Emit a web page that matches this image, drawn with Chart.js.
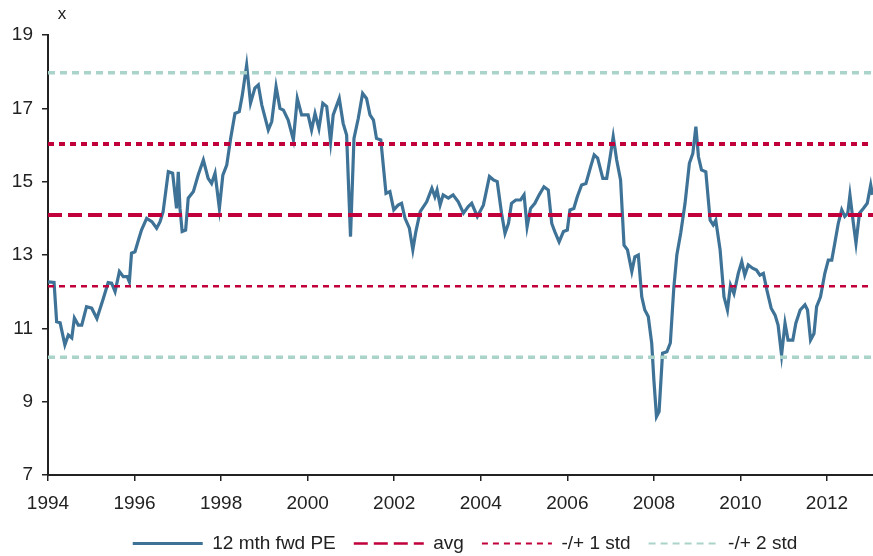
<!DOCTYPE html>
<html>
<head>
<meta charset="utf-8">
<script src="https://cdn.jsdelivr.net/npm/chart.js@4.4.1/dist/chart.umd.min.js"></script>
<style>
  html, body { margin: 0; padding: 0; background: #fff; overflow: hidden; }
  #wrap { width: 930px; height: 556px; }
</style>
</head>
<body>
<div id="wrap"><canvas id="peChart" width="930" height="556"></canvas></div>
<script>
// 12 mth fwd PE (decimal year, multiple)
const peDates = [
  1994.00, 1994.14, 1994.20, 1994.28, 1994.39, 1994.47, 1994.55, 1994.61, 1994.70, 1994.78,
  1994.89, 1995.01, 1995.13, 1995.28, 1995.39, 1995.47, 1995.55, 1995.65, 1995.74, 1995.83,
  1995.88, 1995.93, 1996.01, 1996.09, 1996.16, 1996.28, 1996.40, 1996.51, 1996.59, 1996.66,
  1996.78, 1996.88, 1996.97, 1997.01, 1997.05, 1997.10, 1997.18, 1997.24, 1997.36, 1997.47,
  1997.59, 1997.70, 1997.78, 1997.86, 1997.96, 1998.04, 1998.13, 1998.22, 1998.32, 1998.42,
  1998.49, 1998.59, 1998.68, 1998.78, 1998.86, 1998.94, 1999.09, 1999.17, 1999.27, 1999.36,
  1999.44, 1999.55, 1999.67, 1999.76, 1999.86, 2000.01, 2000.09, 2000.17, 2000.26, 2000.35,
  2000.44, 2000.53, 2000.59, 2000.73, 2000.82, 2000.90, 2000.99, 2001.07, 2001.17, 2001.27,
  2001.36, 2001.44, 2001.52, 2001.59, 2001.69, 2001.81, 2001.90, 2001.99, 2002.09, 2002.17,
  2002.25, 2002.35, 2002.43, 2002.50, 2002.60, 2002.75, 2002.87, 2002.94, 2002.99, 2003.06,
  2003.13, 2003.25, 2003.36, 2003.48, 2003.60, 2003.71, 2003.79, 2003.92, 2004.06, 2004.20,
  2004.29, 2004.38, 2004.48, 2004.56, 2004.64, 2004.71, 2004.81, 2004.92, 2005.00, 2005.07,
  2005.15, 2005.25, 2005.35, 2005.46, 2005.56, 2005.64, 2005.71, 2005.81, 2005.91, 2006.00,
  2006.06, 2006.15, 2006.23, 2006.33, 2006.43, 2006.54, 2006.62, 2006.70, 2006.82, 2006.91,
  2006.99, 2007.06, 2007.14, 2007.23, 2007.31, 2007.39, 2007.49, 2007.56, 2007.64, 2007.72,
  2007.79, 2007.87, 2007.95, 2008.00, 2008.06, 2008.12, 2008.20, 2008.30, 2008.38, 2008.46,
  2008.53, 2008.62, 2008.72, 2008.82, 2008.90, 2008.97, 2009.03, 2009.10, 2009.20, 2009.30,
  2009.37, 2009.43, 2009.53, 2009.62, 2009.70, 2009.77, 2009.85, 2009.95, 2010.03, 2010.10,
  2010.18, 2010.28, 2010.37, 2010.45, 2010.53, 2010.61, 2010.71, 2010.80, 2010.87, 2010.95,
  2011.03, 2011.10, 2011.21, 2011.28, 2011.38, 2011.49, 2011.55, 2011.62, 2011.70, 2011.76,
  2011.85, 2011.95, 2012.03, 2012.11, 2012.18, 2012.26, 2012.34, 2012.41, 2012.48, 2012.53,
  2012.61, 2012.67, 2012.75, 2012.84, 2012.93, 2013.01, 2013.05
];
const peValues = [
  12.27, 12.25, 11.18, 11.15, 10.55, 10.82, 10.74, 11.28, 11.09, 11.09,
  11.59, 11.55, 11.27, 11.82, 12.25, 12.23, 12.00, 12.55, 12.41, 12.41,
  12.27, 13.05, 13.09, 13.41, 13.68, 14.00, 13.91, 13.73, 13.91, 14.18,
  15.27, 15.23, 14.27, 15.27, 14.27, 13.64, 13.68, 14.55, 14.73, 15.18,
  15.59, 15.09, 14.95, 15.23, 14.27, 15.18, 15.45, 16.18, 16.86, 16.91,
  17.36, 18.18, 17.14, 17.55, 17.64, 17.09, 16.41, 16.64, 17.59, 17.00,
  16.95, 16.68, 16.14, 17.27, 16.82, 16.82, 16.41, 16.86, 16.45, 17.14,
  17.05, 16.09, 16.82, 17.27, 16.59, 16.27, 13.50, 16.18, 16.73, 17.41,
  17.27, 16.82, 16.68, 16.18, 16.14, 14.68, 14.73, 14.23, 14.36, 14.41,
  14.00, 13.73, 13.14, 13.64, 14.18, 14.45, 14.82, 14.59, 14.77, 14.36,
  14.64, 14.55, 14.64, 14.45, 14.14, 14.32, 14.41, 14.05, 14.36, 15.14,
  15.05, 15.00, 14.14, 13.59, 13.86, 14.41, 14.50, 14.50, 14.64, 13.77,
  14.27, 14.41, 14.64, 14.86, 14.77, 13.86, 13.64, 13.36, 13.64, 13.68,
  14.23, 14.27, 14.59, 14.91, 14.95, 15.41, 15.73, 15.64, 15.09, 15.09,
  15.68, 16.23, 15.59, 15.05, 13.27, 13.14, 12.55, 12.95, 13.00, 11.86,
  11.50, 11.32, 10.59, 9.59, 8.59, 8.73, 10.32, 10.36, 10.60, 12.10,
  13.00, 13.60, 14.41, 15.50, 15.77, 16.50, 15.68, 15.32, 15.27, 13.95,
  13.82, 13.95, 13.14, 11.86, 11.50, 12.18, 11.95, 12.50, 12.82, 12.45,
  12.73, 12.64, 12.59, 12.45, 12.50, 12.05, 11.55, 11.36, 11.09, 10.27,
  11.14, 10.68, 10.68, 11.14, 11.50, 11.64, 11.50, 10.68, 10.86, 11.59,
  11.86, 12.50, 12.86, 12.86, 13.32, 13.86, 14.23, 14.05, 14.14, 14.64,
  13.86, 13.32, 14.14, 14.27, 14.41, 14.91, 14.64
];

// horizontal reference levels
const avgLevel = 14.09;
const std1Levels = [16.03, 12.15];
const std2Levels = [17.97, 10.21];

const yearTicks = [1994, 1996, 1998, 2000, 2002, 2004, 2006, 2008, 2010, 2012];
const valueTicks = [7, 9, 11, 13, 15, 17, 19];
const xStart = 1994;
const xEnd = 2014.38;   // chart runs past the right edge of the picture

const legendLabels = ["12 mth fwd PE", "avg", "-/+ 1 std", "-/+ 2 std"];

const BLUE = "#3e7397";
const RED = "#c1003b";
const TEAL = "#aad4ca";
const INK = "#222";

Chart.defaults.font.family = "'Liberation Sans', Arial, sans-serif";
Chart.defaults.font.size = 19;
Chart.defaults.color = INK;

function flatLine(level) {
  return [{ x: xStart, y: level }, { x: xEnd, y: level }];
}

// little "x" unit label above the value axis
const unitLabel = {
  id: "unitLabel",
  afterDraw(chart) {
    const { ctx, chartArea } = chart;
    ctx.save();
    ctx.font = "17px 'Liberation Sans', Arial, sans-serif";
    ctx.fillStyle = INK;
    ctx.textAlign = "center";
    ctx.textBaseline = "middle";
    ctx.fillText("x", chartArea.left + 14, chartArea.top - 21);
    ctx.restore();
  }
};

const legendWidths = [3, 2.5, 2, 2];

new Chart(document.getElementById("peChart"), {
  type: "line",
  data: {
    datasets: [
      {
        label: legendLabels[0],
        data: peDates.map((d, i) => ({ x: d, y: peValues[i] })),
        borderColor: BLUE,
        borderWidth: 3.2,
        order: 2
      },
      { label: legendLabels[1], data: flatLine(avgLevel), borderColor: RED, borderWidth: 4, borderDash: [14, 6], order: 1 },
      { label: legendLabels[2], data: flatLine(std1Levels[0]), borderColor: RED, borderWidth: 4, borderDash: [6, 5], order: 1 },
      { label: legendLabels[3], data: flatLine(std2Levels[0]), borderColor: TEAL, borderWidth: 3.5, borderDash: [7, 5], order: 1 },
      { label: "-1 std", data: flatLine(std1Levels[1]), borderColor: RED, borderWidth: 2.5, borderDash: [6, 5], order: 1 },
      { label: "-2 std", data: flatLine(std2Levels[1]), borderColor: TEAL, borderWidth: 3.5, borderDash: [7, 5], order: 1 }
    ]
  },
  options: {
    responsive: false,
    animation: false,
    layout: { padding: { top: 35, left: 0, right: 0, bottom: -7 } },
    elements: {
      point: { radius: 0 },
      line: { tension: 0, fill: false, borderCapStyle: "butt" }
    },
    scales: {
      x: {
        type: "linear",
        min: xStart,
        max: xEnd,
        afterBuildTicks: s => { s.ticks = yearTicks.map(v => ({ value: v })); },
        afterFit: s => { s.height = 41; },
        ticks: { callback: v => String(v), padding: 11, maxRotation: 0, autoSkip: false },
        grid: { drawOnChartArea: false, tickLength: 6, color: INK, lineWidth: 1.5 },
        border: { color: INK, width: 2 }
      },
      y: {
        min: 7,
        max: 19,
        afterBuildTicks: s => { s.ticks = valueTicks.map(v => ({ value: v })); },
        afterFit: s => { s.width = 48; },
        ticks: { padding: 9 },
        grid: { drawOnChartArea: false, tickLength: 6, color: INK, lineWidth: 1.5 },
        border: { color: INK, width: 2 }
      }
    },
    plugins: {
      tooltip: { enabled: false },
      legend: {
        position: "bottom",
        labels: {
          usePointStyle: true,
          pointStyle: "line",
          pointStyleWidth: 70,
          padding: 18,
          color: INK,
          generateLabels: chart => chart.data.datasets.slice(0, 4).map((ds, i) => ({
            text: ds.label,
            strokeStyle: ds.borderColor,
            fillStyle: ds.borderColor,
            fontColor: INK,
            lineWidth: legendWidths[i],
            lineDash: ds.borderDash || [],
            pointStyle: "line",
            rotation: 0,
            hidden: false,
            datasetIndex: i
          }))
        }
      }
    }
  },
  plugins: [unitLabel]
});
</script>
</body>
</html>
